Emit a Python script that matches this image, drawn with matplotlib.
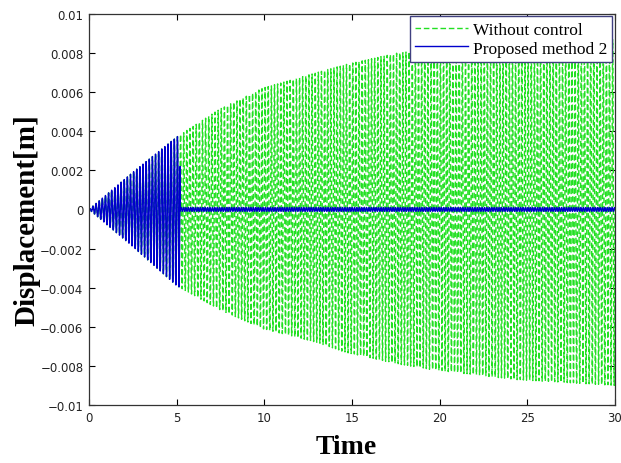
import numpy as np
import matplotlib
matplotlib.use('Agg')
import matplotlib.pyplot as plt

# envelope peaks (time [s], displacement [m])
env_t = [0, 2.5, 5, 7.4, 9.9, 13, 14.6, 17.6, 19.6, 24.3, 30]
env_up = [0, 0.0019, 0.0037, 0.0051, 0.0062, 0.0070, 0.0074, 0.0080, 0.0082, 0.0085, 0.0087]
env_lo = [0, -0.0019, -0.0039, -0.0051, -0.0061, -0.0068, -0.0073, -0.0079, -0.0082, -0.0087, -0.0090]

# oscillation frequency [Hz] estimated from the stroke spacing
freq = 5.6
t_switch = 5.2        # control switched on
resid_amp = 0.0001    # residual vibration of proposed method

t = np.arange(0, 30.0001, 0.004)
carrier = np.sin(2 * np.pi * freq * t)
up = np.interp(t, env_t, env_up)
lo = np.interp(t, env_t, env_lo)
x_free = np.where(carrier > 0, up, -lo) * carrier

x_ctrl = x_free.copy()
after = t >= t_switch
x_ctrl[after] = resid_amp * np.sin(2 * np.pi * 1.3 * freq * t[after])

fig = plt.figure(figsize=(6.21, 4.64), dpi=100)
ax = fig.add_axes([0.1433, 0.125, 0.847, 0.843])

ax.plot(t, x_free, '--', color='#22e022', lw=1.0, dashes=(4, 2), label='Without control')
ax.plot(t, x_ctrl, '-', color='#0000cc', lw=1.0, label='Proposed method 2')

ax.set_xlim(0, 30)
ax.set_ylim(-0.01, 0.01)
ax.set_xticks([0, 5, 10, 15, 20, 25, 30])
ax.set_yticks([-0.01, -0.008, -0.006, -0.004, -0.002, 0, 0.002, 0.004, 0.006, 0.008, 0.01])
ax.set_yticklabels(['\u22120.01', '\u22120.008', '\u22120.006', '\u22120.004', '\u22120.002', '0',
                    '0.002', '0.004', '0.006', '0.008', '0.01'])
ax.tick_params(direction='in', top=True, right=True, length=4, width=0.8,
               labelsize=8.5, labelcolor='#222222', pad=4)
for sp in ax.spines.values():
    sp.set_linewidth(0.9)
    sp.set_color('#333333')

ax.set_xlabel('Time', family='Liberation Serif', fontweight='bold', fontsize=20)
ax.set_ylabel('Displacement[m]', family='Liberation Serif', fontweight='bold', fontsize=21)
ax.xaxis.set_label_coords(0.49, -0.075)
ax.yaxis.set_label_coords(-0.092, 0.475)

leg = ax.legend(loc='upper right', prop={'family': 'Liberation Serif', 'size': 12.5},
                fancybox=False, framealpha=1, edgecolor='#404080', borderpad=0.3,
                labelspacing=0.15, handlelength=3.0, handletextpad=0.3, borderaxespad=0.15)
leg.get_frame().set_linewidth(1.0)

fig.savefig('out.png', dpi=100)
